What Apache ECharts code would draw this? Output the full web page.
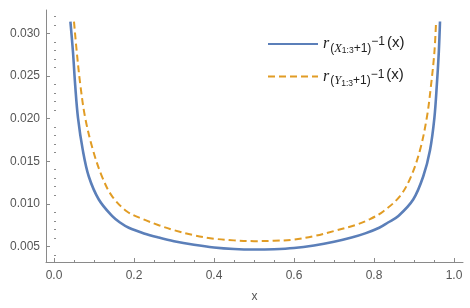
<!DOCTYPE html>
<html><head><meta charset="utf-8">
<script src="https://cdn.jsdelivr.net/npm/echarts@6/dist/echarts.min.js"></script>
<style>html,body{margin:0;padding:0;background:#fff}#c{width:470px;height:308px}</style>
</head><body><div id="c"></div>
<script>
// Data
const blueX = [0.041,0.0475,0.053,0.060,0.072,0.087,0.112,0.145,0.165,0.187,0.225,0.262,0.30,0.35,0.40,0.45,0.50,0.55,0.60,0.65,0.70,0.744,0.778,0.813,0.835,0.861,0.898,0.923,0.94,0.951,0.957,0.962,0.965];
const blueY = [0.0314,0.0278,0.0239,0.0201,0.0163,0.0132,0.0105,0.00857,0.0078,0.00718,0.00652,0.00603,0.0056,0.00518,0.00486,0.00468,0.00462,0.00466,0.0048,0.0051,0.00553,0.00603,0.00652,0.00718,0.0078,0.00857,0.0105,0.0132,0.0163,0.0201,0.0239,0.0278,0.0314];
const orangeX = [0.05,0.057,0.066,0.078,0.0975,0.12,0.145,0.1825,0.222,0.262,0.30,0.35,0.40,0.45,0.50,0.55,0.60,0.65,0.70,0.7525,0.79,0.823,0.865,0.8925,0.915,0.932,0.9425,0.951,0.955];
const orangeY = [0.0314,0.0278,0.0239,0.0201,0.0163,0.0132,0.0109,0.0091,0.0082,0.00748,0.0069,0.0063,0.0059,0.0057,0.00561,0.00565,0.0058,0.0062,0.0068,0.00748,0.0082,0.0091,0.0109,0.0132,0.0163,0.0201,0.0239,0.0278,0.0312];
const xTicks = [0,0.2,0.4,0.6,0.8,1.0];
const xMinor = [0.05,0.1,0.15,0.25,0.3,0.35,0.45,0.5,0.55,0.65,0.7,0.75,0.85,0.9,0.95];
const yTicks = [0.005,0.010,0.015,0.020,0.025,0.030];
const yMinor = [0.004,0.006,0.007,0.008,0.009,0.011,0.012,0.013,0.014,0.016,0.017,0.018,0.019,0.021,0.022,0.023,0.024,0.026,0.027,0.028,0.029,0.031,0.032];
const seriesNames = ['blue','orange'];

const chart = echarts.init(document.getElementById('c'));
const axCol = '#8a8a8a';
const labCol = '#555';
const xRange = {min:-0.02, max:1.0225};
const yRange = {min:0.00316, max:0.03276};
function pairs(xs, ys){ return xs.map((x,i)=>[x, ys[i]]); }
const richStyle = {
  r:{fontFamily:'Liberation Serif',fontStyle:'italic',fontSize:16,color:'#222',padding:[0,1,0,0]},
  s:{fontFamily:'Liberation Sans',fontSize:12,color:'#222',padding:[9,0,0,0]},
  si:{fontFamily:'Liberation Serif',fontStyle:'italic',fontSize:12.5,color:'#222',padding:[9,0,0,0]},
  ss:{fontFamily:'Liberation Sans',fontSize:8.5,color:'#222',padding:[14,0,0,0]},
  sup:{fontFamily:'Liberation Sans',fontSize:12,color:'#222',padding:[0,1,4,0]},
  m:{fontFamily:'Liberation Sans',fontSize:15,color:'#222',padding:[0,0,3,1]}
};
chart.setOption({
  animation:false,
  backgroundColor:'#fff',
  grid:{left:46,right:7,top:10,bottom:41,containLabel:false},
  legend:{
    orient:'vertical', left:262, top:30, itemGap:12, itemWidth:50, itemHeight:10,
    data:seriesNames,
    itemStyle:{opacity:0},
    formatter:function(n){
      const v = n==='blue' ? 'X' : 'Y';
      return '{r|r}{s|(}{si|'+v+'}{ss|1:3}{s|+1)}{sup|−1}{m|(x)}';
    },
    textStyle:{rich:richStyle}
  },
  xAxis:[
    {type:'value', ...xRange, position:'bottom',
     name:'x', nameLocation:'middle', nameGap:29, nameTextStyle:{color:labCol,fontSize:12,fontFamily:'Liberation Sans'},
     axisLine:{onZero:false,lineStyle:{color:axCol,width:1}},
     axisTick:{inside:true,length:4,customValues:xTicks,lineStyle:{color:axCol}},
     axisLabel:{customValues:xTicks,formatter:v=>v.toFixed(1),color:labCol,fontSize:12,fontFamily:'Liberation Sans',margin:8},
     splitLine:{show:false}},
    {type:'value', ...xRange, position:'bottom',
     axisLine:{show:false},
     axisTick:{inside:true,length:2,customValues:xMinor,lineStyle:{color:axCol}},
     axisLabel:{show:false}, splitLine:{show:false}}
  ],
  yAxis:[
    {type:'value', ...yRange, position:'left',
     axisLine:{show:true,onZero:false,lineStyle:{color:axCol,width:1}},
     axisTick:{show:true,inside:true,length:4,customValues:yTicks,lineStyle:{color:axCol}},
     axisLabel:{customValues:yTicks,formatter:v=>v.toFixed(3),color:labCol,fontSize:12,fontFamily:'Liberation Sans',margin:6},
     splitLine:{show:false}},
    {type:'value', ...yRange, position:'left',
     axisLine:{show:false},
     axisTick:{show:true,inside:true,length:2,customValues:yMinor,lineStyle:{color:axCol}},
     axisLabel:{show:false}, splitLine:{show:false}}
  ],
  series:[
    {name:'blue', type:'line', data:pairs(blueX,blueY), smooth:0.35, symbol:'none',
     lineStyle:{color:'#5B7FB9',width:2.6}, itemStyle:{color:'#5B7FB9'}, z:3},
    {name:'orange', type:'line', data:pairs(orangeX,orangeY), smooth:0.35, symbol:'none',
     lineStyle:{color:'#E19C24',width:2,type:[7,4]}, itemStyle:{color:'#E19C24'}, z:2}
  ]
});
</script></body></html>
